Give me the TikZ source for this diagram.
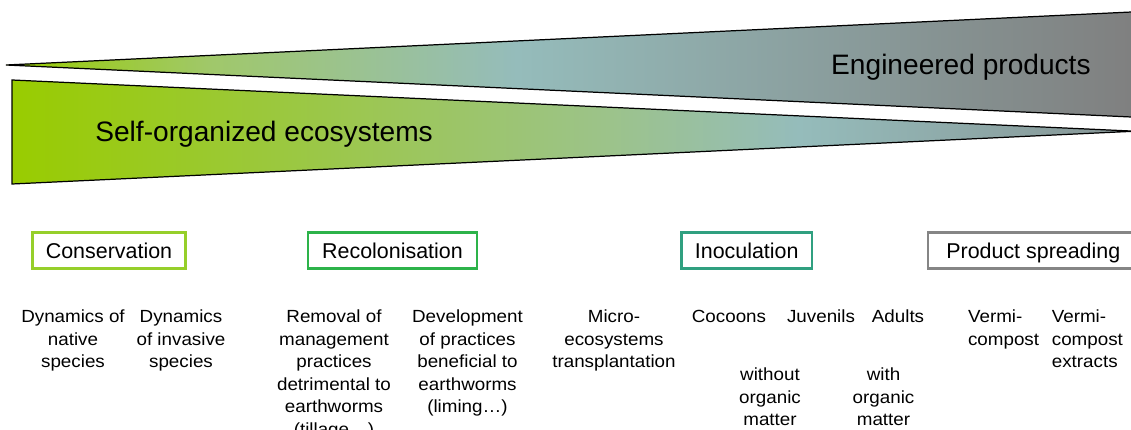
\documentclass[tikz,border=0pt]{standalone}
\usepackage{fontspec}
\setmainfont{Liberation Sans}
\newfontfamily\itemfont[FakeStretch=1.07]{Liberation Sans}
\definecolor{gA}{HTML}{99CC00}
\definecolor{gUp}{HTML}{A0C86A}
\definecolor{gLo1}{HTML}{9CC65C}
\definecolor{gLo2}{HTML}{9CC38A}
\definecolor{tealL}{HTML}{95BCBB}
\definecolor{greyE}{HTML}{7F7F7F}
\definecolor{greyT}{HTML}{879595}
\definecolor{consC}{HTML}{96CF2A}
\definecolor{recoC}{HTML}{2DB34A}
\definecolor{inocC}{HTML}{30A080}
\definecolor{prodC}{HTML}{858585}
\pgfdeclarehorizontalshading{uppershade}{100bp}{color(0bp)=(gA); color(25bp)=(gA); color(34bp)=(gUp); color(47.5bp)=(tealL); color(75bp)=(greyE); color(100bp)=(greyE)}
\pgfdeclarehorizontalshading{lowershade}{100bp}{color(0bp)=(gA); color(25bp)=(gA); color(42.5bp)=(gLo1); color(51.5bp)=(gLo2); color(60bp)=(tealL); color(75bp)=(greyT); color(100bp)=(greyT)}
\tikzset{
  wedge/.style={draw=black, line width=0.7pt, line join=miter},
  bigtxt/.style={font=\fontsize{16}{19}\selectfont, inner sep=0pt},
  catbox/.style={draw=#1, line width=1.5pt, inner sep=0pt, minimum height=0.727cm,
    text height=8.7pt, text depth=0pt, font=\fontsize{12.2}{14}\selectfont},
  itemtxt/.style={font=\itemfont\fontsize{10}{12.85}\selectfont, align=center, inner sep=0pt, anchor=north},
  itemleft/.style={itemtxt, align=left, anchor=north west}
}
\begin{document}
\begin{tikzpicture}[x=0.02cm, y=-0.02cm]
\useasboundingbox (0,0) rectangle (1131,429);
\clip (0,0) rectangle (1131,429);
% wedges
\path[wedge, shading=uppershade] (6,65) -- (1140,11.6) -- (1140,117.4) -- cycle;
\path[wedge, shading=lowershade] (12,80) -- (1135,131.2) -- (12,184) -- cycle;
\node[bigtxt, anchor=base west] (self) at (95,141.5) {Self-organized ecosystems};
\node[bigtxt, anchor=base east] (eng) at (1091,74) {Engineered products};
% category boxes
\node[catbox=consC, minimum width=3.07cm] (cons) at (109,250.5) {Conservation};
\node[catbox=recoC, minimum width=3.38cm] (reco) at (392.5,250.5) {Recolonisation};
\node[catbox=inocC, minimum width=2.61cm] (inoc) at (746.7,250.5) {Inoculation};
\node[catbox=prodC, minimum width=4.21cm] (prod) at (1033.3,250.5) {Product spreading};
% items
\node[itemtxt] (natv) at (73,309.6) {Dynamics of\\native\\species};
\node[itemtxt] (inva) at (181,309.6) {Dynamics\\of invasive\\species};
\node[itemtxt] (remo) at (334,309.6) {Removal of\\management\\practices\\detrimental to\\earthworms\\(tillage…)};
\node[itemtxt] (deve) at (467.5,309.6) {Development\\of practices\\beneficial to\\earthworms\\(liming…)};
\node[itemtxt] (micr) at (614,309.6) {Micro-\\ecosystems\\transplantation};
\node[itemtxt] (coco) at (729,309.6) {Cocoons};
\node[itemtxt] (juve) at (821,309.6) {Juvenils};
\node[itemtxt] (adul) at (898,309.6) {Adults};
\node[itemtxt] (wout) at (770,367.6) {without\\organic\\matter};
\node[itemtxt] (with) at (883.5,367.6) {with\\organic\\matter};
\node[itemleft] (verm) at (967.7,309.6) {Vermi-\\compost};
\node[itemleft] (vext) at (1051.5,309.6) {Vermi-\\compost\\extracts};
\end{tikzpicture}
\end{document}
